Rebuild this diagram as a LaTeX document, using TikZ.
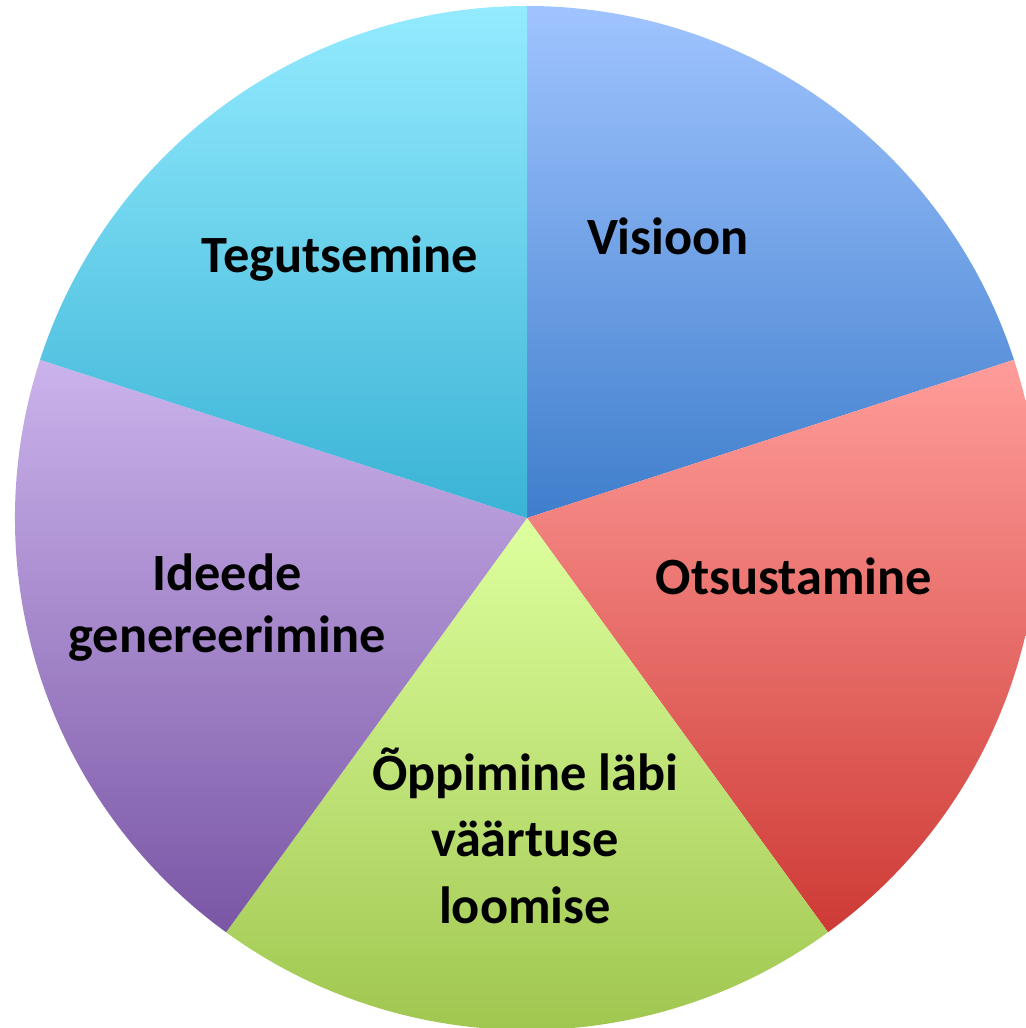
\documentclass[tikz,border=0pt]{standalone}
\usepackage{fontspec}
\setmainfont{Carlito}
\definecolor{visTop}{HTML}{A0C4FF}
\definecolor{visBot}{HTML}{3F7ECC}
\definecolor{tegTop}{HTML}{94EBFF}
\definecolor{tegBot}{HTML}{3AB3D5}
\definecolor{ideTop}{HTML}{CBB3EC}
\definecolor{ideBot}{HTML}{7A56A5}
\definecolor{otsTop}{HTML}{FF9D9A}
\definecolor{otsBot}{HTML}{CE3A35}
\definecolor{opTop}{HTML}{DEFF9E}
\definecolor{opBot}{HTML}{9CC34B}
\tikzset{
  lbl/.style={font=\fontsize{14.9}{17.6}\selectfont\bfseries, text=black, align=center, anchor=base, inner sep=0pt}
}
\begin{document}
\begin{tikzpicture}
            \useasboundingbox (-5.27,-5.10) rectangle (4.98,5.18);
            \def\R{5.12}
            \coordinate (O) at (0,0);
            \coordinate (A) at (90:\R);
            \coordinate (B) at (18:\R);
            \coordinate (C) at (-54:\R);
            \coordinate (D) at (-126:\R);
            \coordinate (E) at (162:\R);
            
            % slices
            \shade[top color=visTop, bottom color=visBot] (O) -- (A) arc[start angle=90, end angle=18, radius=\R] -- cycle;
            \shade[top color=otsTop, bottom color=otsBot] (O) -- (B) arc[start angle=18, end angle=-54, radius=\R] -- cycle;
            \shade[top color=opTop, bottom color=opBot] (O) -- (C) arc[start angle=-54, end angle=-126, radius=\R] -- cycle;
            \shade[top color=ideTop, bottom color=ideBot] (O) -- (D) arc[start angle=-126, end angle=-198, radius=\R] -- cycle;
            \shade[top color=tegTop, bottom color=tegBot] (O) -- (E) arc[start angle=162, end angle=90, radius=\R] -- cycle;
            
            % labels (base = last line)
            \node[lbl] (V) at (1.41,2.63) {Visioon};
            \node[lbl] (T) at (-1.87,2.45) {Tegutsemine};
            \node[lbl] (I) at (-3.00,-1.34) {Ideede\\genereerimine};
            \node[lbl] (S) at (2.67,-0.77) {Otsustamine};
            \node[lbl, font=\fontsize{14.9}{18.8}\selectfont\bfseries] (P) at (-0.02,-4.05) {Õppimine läbi\\väärtuse\\loomise};
\end{tikzpicture}
\end{document}
